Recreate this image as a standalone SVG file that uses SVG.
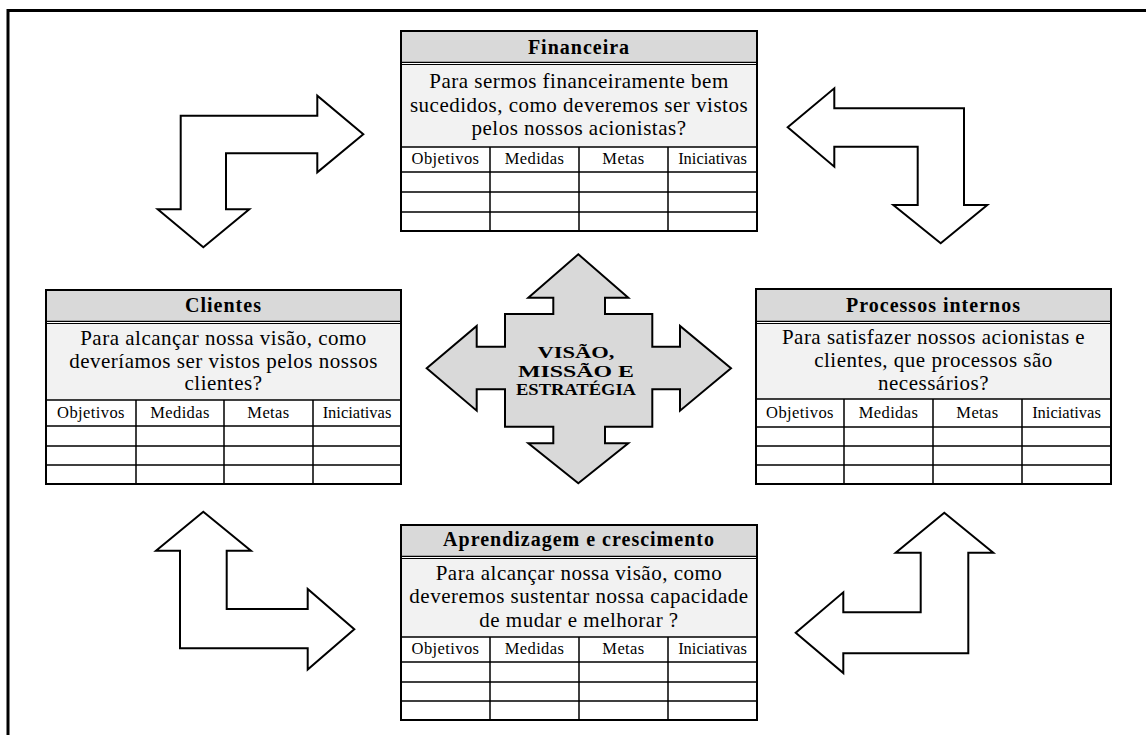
<svg xmlns="http://www.w3.org/2000/svg" width="1146" height="735" viewBox="0 0 1146 735">
<style>
.hdr{fill:#d9d9d9}
.q{fill:#f2f2f2}
.frame{fill:none;stroke:#000;stroke-width:2}
.ln{stroke:#000;stroke-width:1.5;fill:none}
.dbl{stroke:#000;stroke-width:1.2}
.t{font-family:"Liberation Serif","Times New Roman",serif;fill:#000;text-anchor:middle}
.title{font-size:20px;font-weight:bold;letter-spacing:1px}
.ques{font-size:21px;letter-spacing:0.5px}
.col{font-size:16.5px;letter-spacing:0.4px}
.ini{letter-spacing:0}
.arrow{fill:#fff;stroke:#000;stroke-width:2;stroke-linejoin:miter}
.big{fill:#d9d9d9;stroke:#000;stroke-width:2;stroke-linejoin:miter}
.ctr{font-size:17.5px;font-weight:bold}
</style>
<rect width="1146" height="735" fill="#fff"/>
<path d="M8,735 L8,10.5 L1146,10.5" fill="none" stroke="#000" stroke-width="3"/>

<g id="connectors">
<path class="arrow" d="M180.7,115.7 L317.3,115.7 L317.3,95.7 L363.3,134.3 L317.3,172.3 L317.3,153.3 L226,153.3 L226,209.3 L249.3,209.3 L203.3,247.3 L157.7,209.3 L180.7,209.3 Z"/>
<path class="arrow" d="M964,108.3 L834.3,108.3 L834.3,88.3 L787.7,127.3 L834.3,166.7 L834.3,146.7 L917.7,146.7 L917.7,205 L893.3,205 L940.7,243.3 L987.3,205 L964,205 Z"/>
<path class="arrow" d="M180,648.3 L307.7,648.3 L307.7,669.6 L354.3,629.3 L307.7,589 L307.7,609 L226.7,609 L226.7,550.7 L251,550.7 L203.3,511.7 L156,550.7 L180,550.7 Z"/>
<path class="arrow" d="M968.3,653.3 L843.3,653.3 L843.3,673 L795.7,632.7 L843.3,592.3 L843.3,612.3 L920.7,612.3 L920.7,552.7 L895.7,552.7 L944.3,512.7 L993.3,552.7 L968.3,552.7 Z"/>
</g>

<g id="centro">
<path class="big" d="M578.3,254.3 L628.3,297.7 L605,297.7 L605,314 L652.3,314 L652.3,346.7 L680,346.7 L680,326 L731,368.3 L680,410.7 L680,389.3 L652.3,389.3 L652.3,426.7 L605,426.7 L605,443.3 L628.3,443.3 L578.3,483.3 L528.3,443.3 L553.3,443.3 L553.3,426.7 L505,426.7 L505,389.3 L476.7,389.3 L476.7,410.7 L426.7,368.3 L476.7,326 L476.7,346.7 L505,346.7 L505,314 L553.3,314 L553.3,297.7 L528.3,297.7 Z"/>
<text class="t ctr" x="576" y="358.3" textLength="77" lengthAdjust="spacingAndGlyphs">VISÃO,</text>
<text class="t ctr" x="576" y="376.7" textLength="116" lengthAdjust="spacingAndGlyphs">MISSÃO E</text>
<text class="t ctr" x="576" y="394.5" textLength="120" lengthAdjust="spacingAndGlyphs">ESTRATÉGIA</text>
</g>

<g id="financeira">
<rect class="hdr" x="401" y="31" width="356" height="31"/>
<rect class="q" x="401" y="64.5" width="356" height="82.5"/>
<line class="dbl" x1="401" y1="62.3" x2="757" y2="62.3"/>
<line class="dbl" x1="401" y1="64.5" x2="757" y2="64.5"/>
<path class="ln" d="M401,147 H757 M401,172 H757 M401,192 H757 M401,212 H757 M490,147 V231 M579,147 V231 M668,147 V231"/>
<rect class="frame" x="401" y="31" width="356" height="200"/>
<text class="t title" x="579" y="53.5">Financeira</text>
<text class="t ques" x="579" y="88">Para sermos financeiramente bem</text>
<text class="t ques" x="579" y="111.5">sucedidos, como deveremos ser vistos</text>
<text class="t ques" x="579" y="135">pelos nossos acionistas?</text>
<text class="t col" x="445.5" y="164">Objetivos</text>
<text class="t col" x="534.5" y="164">Medidas</text>
<text class="t col" x="623.5" y="164">Metas</text>
<text class="t col ini" x="712.5" y="164">Iniciativas</text>
</g>

<g id="clientes">
<rect class="hdr" x="46" y="290" width="355" height="31"/>
<rect class="q" x="46" y="323.5" width="355" height="76.5"/>
<line class="dbl" x1="46" y1="321.3" x2="401" y2="321.3"/>
<line class="dbl" x1="46" y1="323.5" x2="401" y2="323.5"/>
<path class="ln" d="M46,400 H401 M46,426 H401 M46,446 H401 M46,465 H401 M136,400 V484 M224,400 V484 M313,400 V484"/>
<rect class="frame" x="46" y="290" width="355" height="194"/>
<text class="t title" x="223.5" y="312">Clientes</text>
<text class="t ques" x="223.5" y="345">Para alcançar nossa visão, como</text>
<text class="t ques" x="223.5" y="367.5">deveríamos ser vistos pelos nossos</text>
<text class="t ques" x="223.5" y="390">clientes?</text>
<text class="t col" x="91" y="418">Objetivos</text>
<text class="t col" x="180" y="418">Medidas</text>
<text class="t col" x="268.5" y="418">Metas</text>
<text class="t col ini" x="357" y="418">Iniciativas</text>
</g>

<g id="processos">
<rect class="hdr" x="756" y="289" width="355" height="32"/>
<rect class="q" x="756" y="323.5" width="355" height="75.5"/>
<line class="dbl" x1="756" y1="321.3" x2="1111" y2="321.3"/>
<line class="dbl" x1="756" y1="323.5" x2="1111" y2="323.5"/>
<path class="ln" d="M756,399 H1111 M756,427 H1111 M756,446 H1111 M756,465 H1111 M844,399 V484 M933,399 V484 M1022,399 V484"/>
<rect class="frame" x="756" y="289" width="355" height="195"/>
<text class="t title" x="933.5" y="312">Processos internos</text>
<text class="t ques" x="933.5" y="344">Para satisfazer nossos acionistas e</text>
<text class="t ques" x="933.5" y="367">clientes, que processos são</text>
<text class="t ques" x="933.5" y="390">necessários?</text>
<text class="t col" x="800" y="418">Objetivos</text>
<text class="t col" x="888.5" y="418">Medidas</text>
<text class="t col" x="977.5" y="418">Metas</text>
<text class="t col ini" x="1066.5" y="418">Iniciativas</text>
</g>

<g id="aprendizagem">
<rect class="hdr" x="401" y="525" width="356" height="31"/>
<rect class="q" x="401" y="558.5" width="356" height="78.5"/>
<line class="dbl" x1="401" y1="556.3" x2="757" y2="556.3"/>
<line class="dbl" x1="401" y1="558.5" x2="757" y2="558.5"/>
<path class="ln" d="M401,637 H757 M401,662 H757 M401,682 H757 M401,701 H757 M490,637 V720 M579,637 V720 M668,637 V720"/>
<rect class="frame" x="401" y="525" width="356" height="195"/>
<text class="t title" x="579" y="545.5">Aprendizagem e crescimento</text>
<text class="t ques" x="579" y="580">Para alcançar nossa visão, como</text>
<text class="t ques" x="579" y="603">deveremos sustentar nossa capacidade</text>
<text class="t ques" x="579" y="627">de mudar e melhorar ?</text>
<text class="t col" x="445.5" y="654">Objetivos</text>
<text class="t col" x="534.5" y="654">Medidas</text>
<text class="t col" x="623.5" y="654">Metas</text>
<text class="t col ini" x="712.5" y="654">Iniciativas</text>
</g>
</svg>
